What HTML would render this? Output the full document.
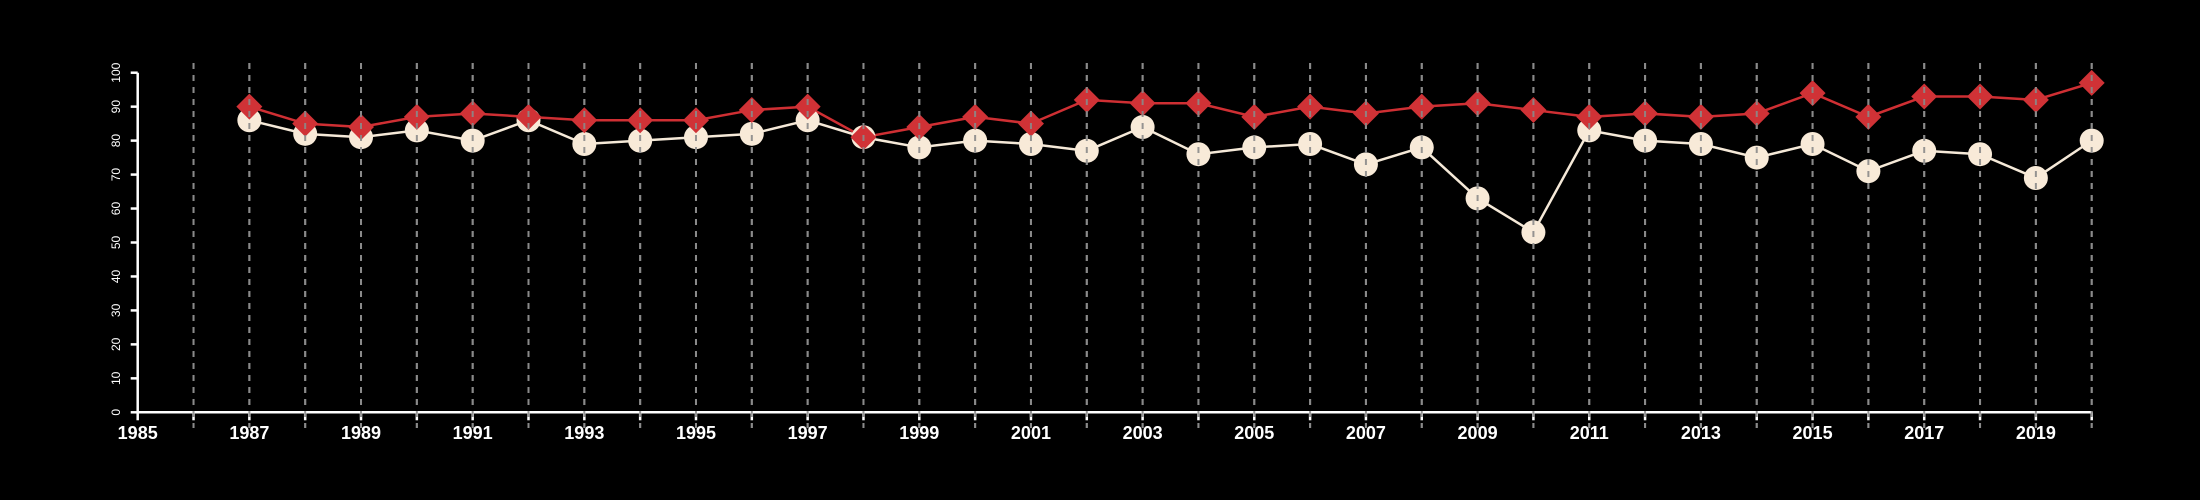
<!DOCTYPE html>
<html><head><meta charset="utf-8"><style>
html,body{margin:0;padding:0;background:#000;width:2200px;height:500px;overflow:hidden}
svg{display:block}
text{font-family:"Liberation Sans",Arial,sans-serif;fill:#fff}
</style></head><body>
<svg id="chart" width="2200" height="500" viewBox="0 0 2200 500" xmlns="http://www.w3.org/2000/svg">
<rect width="2200" height="500" fill="#000"/>
<g id="grid"></g><g id="axes"></g><g id="series"></g>
</svg>
<script>
const years=[1987,1988,1989,1990,1991,1992,1993,1994,1995,1996,1997,1998,1999,2000,2001,2002,2003,2004,2005,2006,2007,2008,2009,2010,2011,2012,2013,2014,2015,2016,2017,2018,2019,2020];
const redValues=[90,85,84,87,88,87,86,86,86,89,90,81,84,87,85,92,91,91,87,90,88,90,91,89,87,88,87,88,94,87,93,93,92,97];
const whiteValues=[86,82,81,83,80,86,79,80,81,82,86,81,78,80,79,77,84,76,78,79,73,78,63,53,83,80,79,75,79,71,77,76,69,80];
const yTicks=[0,10,20,30,40,50,60,70,80,90,100];
const xLabels=[1985,1987,1989,1991,1993,1995,1997,1999,2001,2003,2005,2007,2009,2011,2013,2015,2017,2019];
const xMin=1985,xMax=2020,yMin=0,yMax=100;
const X0=137.7,X1=2091.7,Y0=412.3,Y1=72.7;
const sx=v=>X0+(v-xMin)/(xMax-xMin)*(X1-X0);
const sy=v=>Y0-(v-yMin)/(yMax-yMin)*(Y0-Y1);
const NS="http://www.w3.org/2000/svg";
function mk(tag,attrs,parent){const e=document.createElementNS(NS,tag);for(const k in attrs)e.setAttribute(k,attrs[k]);parent.appendChild(e);return e;}
const grid=document.getElementById('grid'),axes=document.getElementById('axes'),series=document.getElementById('series');
for(let y=xMin+1;y<=xMax;y++){
  const l=mk('line',{x1:sx(y),x2:sx(y),y1:63,y2:428,stroke:'#8a8a8a','stroke-width':2,'stroke-dasharray':'6,6'},grid);
  
  
}
const xa=mk('line',{x1:X0,x2:X1,y1:Y0,y2:Y0,stroke:'#fff','stroke-width':2.5},axes);


const ya=mk('line',{x1:X0,x2:X0,y1:Y0,y2:Y1,stroke:'#fff','stroke-width':2.5},axes);


for(let y=xMin;y<=xMax;y++){
  const t=mk('line',{x1:sx(y),x2:sx(y),y1:Y0,y2:Y0+8,stroke:'#fff','stroke-width':2.5},axes);
  
  
}
xLabels.forEach(y=>{
  const t=mk('text',{x:sx(y),y:439,'text-anchor':'middle','font-size':18,'font-weight':'bold'},axes);
  t.textContent=y;
  
  
});
yTicks.forEach(v=>{
  const t=mk('line',{x1:X0-7,x2:X0,y1:sy(v),y2:sy(v),stroke:'#fff','stroke-width':2.5},axes);
  
  
  const lb=mk('text',{x:0,y:0,'text-anchor':'middle','font-size':12,transform:`translate(120,${sy(v)}) rotate(-90)`},axes);
  lb.textContent=v;
  
  
});
const wl=mk('polyline',{points:years.map((y,i)=>sx(y)+','+sy(whiteValues[i])).join(' '),fill:'none',stroke:'#f5e9d8','stroke-width':2.5},series);


const rl=mk('polyline',{points:years.map((y,i)=>sx(y)+','+sy(redValues[i])).join(' '),fill:'none',stroke:'#cf2f33','stroke-width':2.5},series);


years.forEach((y,i)=>{
  const c=mk('circle',{cx:sx(y),cy:sy(whiteValues[i]),r:12,fill:'#f8ead8'},series);
  
  
});
years.forEach((y,i)=>{
  const x=sx(y),v=sy(redValues[i]),d=13;
  const p=mk('polygon',{points:`${x},${v-d} ${x+d},${v} ${x},${v+d} ${x-d},${v}`,fill:'#d03236'},series);
  
  
});
// grid dashes drawn over markers, as in reference
for(let y=xMin+1;y<=xMax;y++){
  const l=mk('line',{x1:sx(y),x2:sx(y),y1:63,y2:428,stroke:'#8a8a8a','stroke-width':2,'stroke-dasharray':'6,6','stroke-opacity':0.9},series);
  
  
}
</script>
</body></html>
